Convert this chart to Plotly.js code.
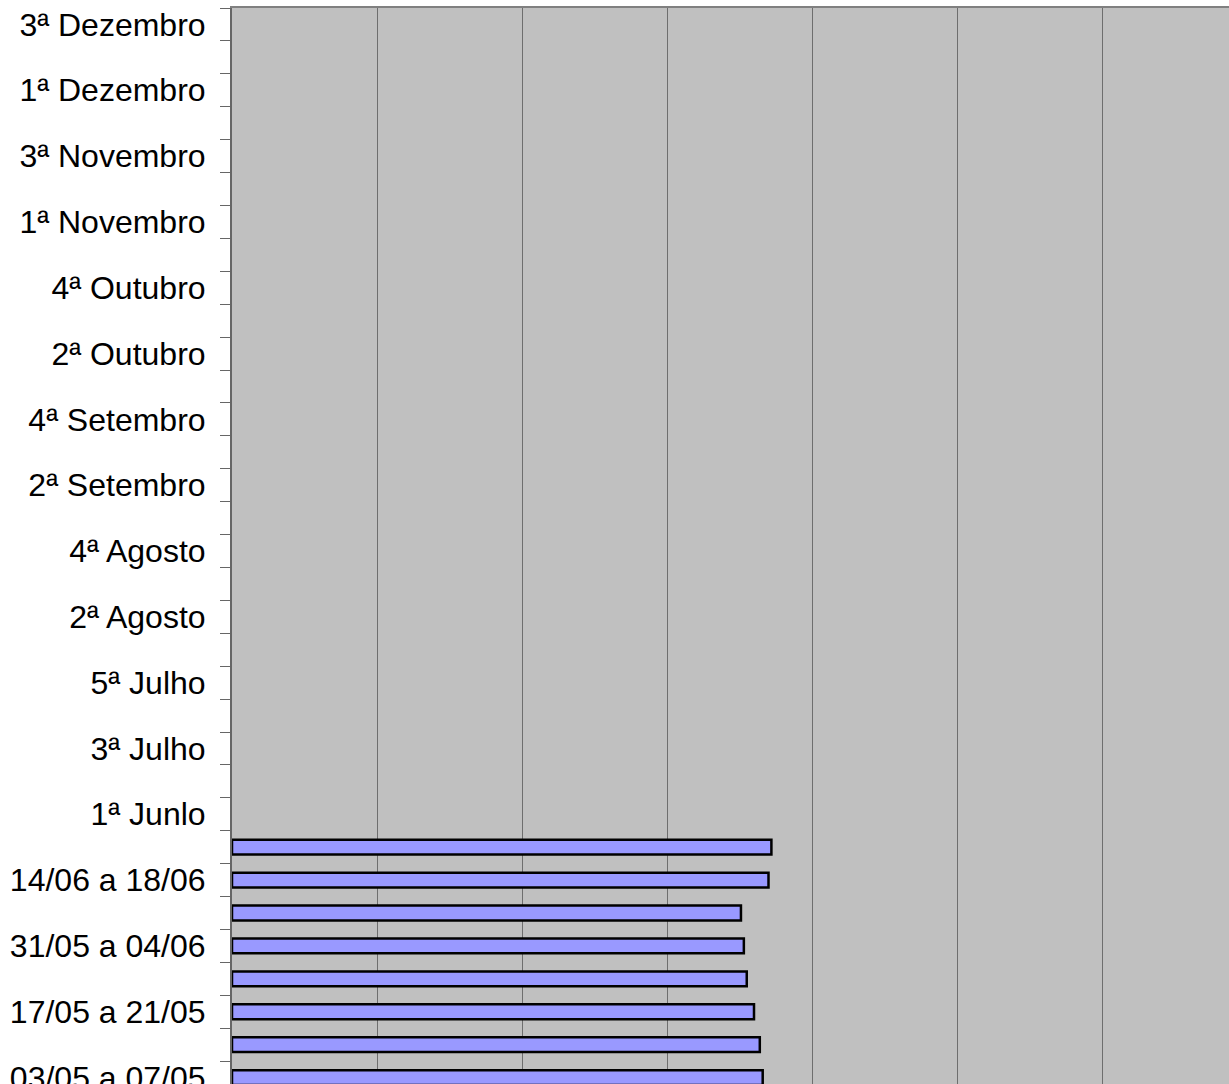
<!DOCTYPE html>
<html>
<head>
<meta charset="utf-8">
<script src="https://cdn.plot.ly/plotly-3.0.1.min.js"></script>
<style>
html, body { margin: 0; padding: 0; overflow: hidden; background: #ffffff; width: 1229px; height: 1084px; }
#chart { width: 1412px; height: 1174px; }
</style>
</head>
<body>
<div id="chart"></div>
<script>
// Categories, bottom to top
const categories = [
  "03/05 a 07/05", "10/05 a 14/05", "17/05 a 21/05", "24/05 a 28/05",
  "31/05 a 04/06", "07/06 a 11/06", "14/06 a 18/06", "21/06 a 25/06",
  "1ª Junlo", "2ª Julho", "3ª Julho", "4ª Julho", "5ª Julho",
  "1ª Agosto", "2ª Agosto", "3ª Agosto", "4ª Agosto",
  "1ª Setembro", "2ª Setembro", "3ª Setembro", "4ª Setembro",
  "1ª Outubro", "2ª Outubro", "3ª Outubro", "4ª Outubro", "5ª Outubro",
  "1ª Novembro", "2ª Novembro", "3ª Novembro", "4ª Novembro",
  "1ª Dezembro", "2ª Dezembro", "3ª Dezembro"
];
// Only every other category is labelled on the axis
const tickLabels = categories.map((c, i) => (i % 2 === 0 ? c : ""));

// Series values (only the first weeks have data)
const weeks = categories.slice(0, 8);
const values = [36.6, 36.4, 36.0, 35.5, 35.3, 35.1, 37.0, 37.2];

const trace = {
  type: "bar",
  orientation: "h",
  y: weeks,
  x: values,
  marker: { color: "#9999FF", line: { color: "#000000", width: 2.5 } },
  hoverinfo: "x+y"
};

const layout = {
  width: 1412,
  height: 1174,
  margin: { l: 232, r: 20, t: 8, b: 80 },
  paper_bgcolor: "#ffffff",
  plot_bgcolor: "#C0C0C0",
  bargap: 0.55,
  showlegend: false,
  font: { family: "Liberation Sans, Arial, sans-serif", size: 32, color: "#000000" },
  xaxis: {
    range: [0, 80],
    dtick: 10,
    showgrid: true,
    gridcolor: "#6e6e6e",
    gridwidth: 1,
    zeroline: false,
    showline: true,
    linecolor: "#808080",
    linewidth: 2,
    mirror: true,
    ticks: "",
    showticklabels: false
  },
  yaxis: {
    type: "category",
    categoryorder: "array",
    categoryarray: categories,
    range: [-0.5, categories.length - 0.5],
    tickmode: "array",
    tickvals: categories,
    ticktext: tickLabels,
    tickson: "boundaries",
    ticks: "outside",
    ticklen: 10,
    tickcolor: "#666666",
    tickwidth: 1,
    ticklabelstandoff: 18,
    showline: true,
    linecolor: "#666666",
    linewidth: 2,
    showgrid: false,
    zeroline: false,
    tickfont: { size: 32, color: "#000000" }
  }
};

Plotly.newPlot("chart", [trace], layout, { staticPlot: true, displayModeBar: false });
</script>
</body>
</html>
